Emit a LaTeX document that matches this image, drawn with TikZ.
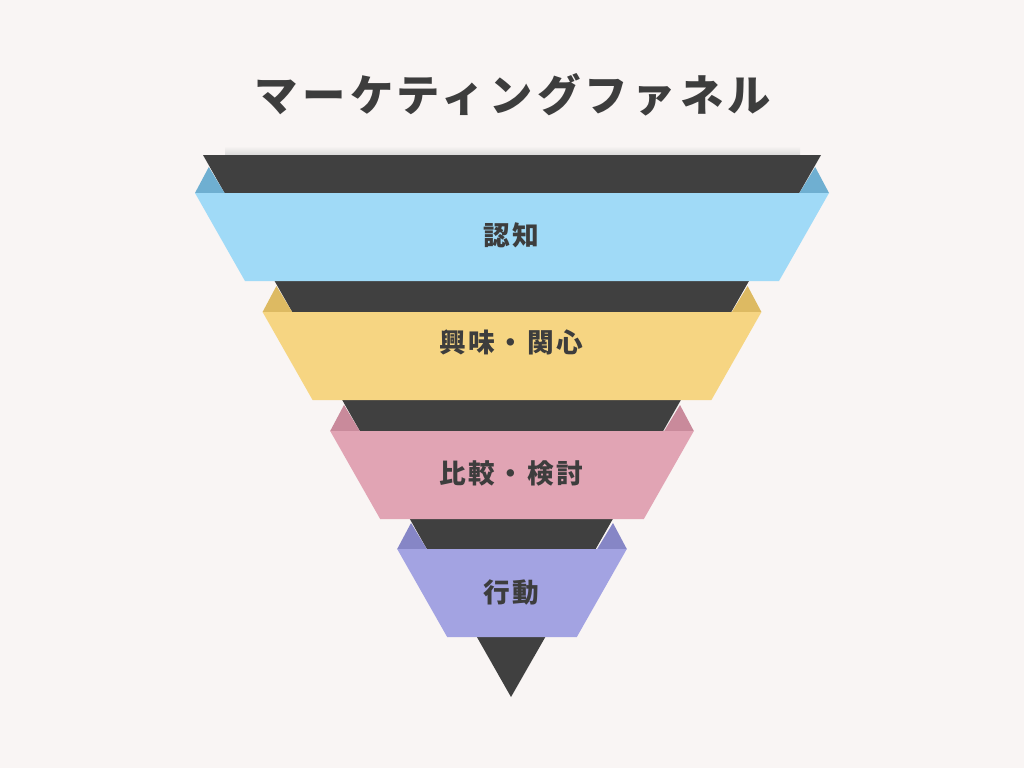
\documentclass[tikz,border=0pt]{standalone}
\usepackage{fontspec}
\usepackage{tikz}
\newfontfamily\jpfont{Noto Sans CJK JP}[LetterSpace=10]
\definecolor{bgpaper}{HTML}{F9F5F4}
\definecolor{funneldark}{HTML}{404040}
\definecolor{inkgrey}{HTML}{3D3D3D}
\definecolor{awareblue}{HTML}{A0DAF7}
\definecolor{awarefold}{HTML}{6FAFD1}
\definecolor{interestyellow}{HTML}{F6D582}
\definecolor{interestfold}{HTML}{DDBA62}
\definecolor{comparepink}{HTML}{E1A4B4}
\definecolor{comparefold}{HTML}{C98A9B}
\definecolor{actionpurple}{HTML}{A3A3E2}
\definecolor{actionfold}{HTML}{8686C6}

\begin{document}
\begin{tikzpicture} [
    x=0.75pt, y=-0.75pt,
    stagelabel/.style = {font=\jpfont\bfseries\fontsize{20}{24}\selectfont, text=inkgrey, inner sep=0pt},
    titlelabel/.style = {font=\jpfont\bfseries\fontsize{32.5}{38}\selectfont, text=inkgrey, inner sep=0pt}
]
    \fill[bgpaper] (0,0) rectangle (1024,768);
    \node[titlelabel] (title) at (513,95) {マーケティングファネル};

    % soft shadow above the funnel
    \shade[top color=bgpaper, bottom color=black!16] (225,146) rectangle (800,156);
    \fill[funneldark] (203,155) -- (821,155) -- (511,697) -- cycle;

    \foreach \yt/\dy/\main/\fold/\txt [count=\i] in {
        193/42/awareblue/awarefold/認知,
        312/30.5/interestyellow/interestfold/興味・関心,
        431/42/comparepink/comparefold/比較・検討,
        549/43/actionpurple/actionfold/行動}
    {
        \pgfmathsetmacro\bl{195+0.568*(\yt-193)}
        \pgfmathsetmacro\bbl{\bl+0.568*88}
        \pgfmathsetmacro\yb{\yt+88}
        \pgfmathsetmacro\fl{203+0.568*(\yt-155)}
        \pgfmathsetmacro\tipy{\yt-26}
        \pgfmathsetmacro\tipx{203+0.568*(\tipy-155)-1}
        \fill[\fold] (\bl,\yt) -- (\tipx,\tipy) -- (\fl,\yt) -- cycle;
        \fill[\fold] ({1024-\bl},\yt) -- ({1024-\tipx},\tipy) -- ({1024-\fl},\yt) -- cycle;
        \fill[\main] (\bl,\yt) -- ({1024-\bl},\yt) -- ({1024-\bbl},\yb) -- (\bbl,\yb) -- cycle;
        \node[stagelabel] (stage\i) at (511,\yt+\dy) {\txt};
    }
\end{tikzpicture}
\end{document}
